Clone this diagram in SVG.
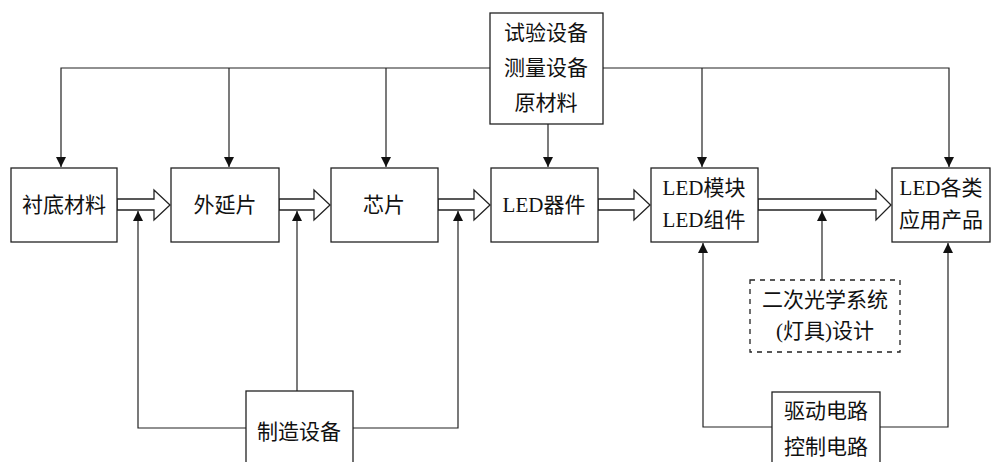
<svg xmlns="http://www.w3.org/2000/svg" width="992" height="462" viewBox="0 0 992 462">
<defs>
<style>
.box{fill:#fff;stroke:#222;stroke-width:1.3}
.dbox{fill:#fff;stroke:#222;stroke-width:1.3;stroke-dasharray:5 5}
.ln{fill:none;stroke:#222;stroke-width:1.2}
.ha{fill:#fff;stroke:#222;stroke-width:1.3;stroke-linejoin:miter}
text{font-family:"Liberation Serif","Noto Sans CJK SC",serif;font-size:21px;fill:#111;text-anchor:middle;dominant-baseline:central}
</style>
<marker id="ah" viewBox="0 0 10 10" refX="10" refY="5" markerWidth="10" markerHeight="10" markerUnits="userSpaceOnUse" orient="auto">
<path d="M0,0 L10,5 L0,10 Z" fill="#111"/>
</marker>
</defs>
<g id="connectors">
<!-- top distribution -->
<path class="ln" d="M490,68 H61 V167" marker-end="url(#ah)"/>
<path class="ln" d="M229,68 V167" marker-end="url(#ah)"/>
<path class="ln" d="M386,68 V167" marker-end="url(#ah)"/>
<path class="ln" d="M603,68 H949 V167" marker-end="url(#ah)"/>
<path class="ln" d="M702,68 V167" marker-end="url(#ah)"/>
<path class="ln" d="M548,124 V167" marker-end="url(#ah)"/>
<!-- hollow arrows -->
<path class="ha" d="M117,199 H154 V190 L170,205 L154,220 V210 H117 Z"/>
<path class="ha" d="M279,199 H314 V190 L330,205 L314,220 V210 H279 Z"/>
<path class="ha" d="M438,199 H474 V190 L490,205 L474,220 V210 H438 Z"/>
<path class="ha" d="M598,199 H634 V190 L650,205 L634,220 V210 H598 Z"/>
<path class="ha" d="M758,199 H876 V190 L891,205 L876,220 V210 H758 Z"/>
<!-- bottom manufacturing -->
<path class="ln" d="M246,428 H138 V211" marker-end="url(#ah)"/>
<path class="ln" d="M353,428 H458 V211" marker-end="url(#ah)"/>
<path class="ln" d="M297,391 V211" marker-end="url(#ah)"/>
<!-- optics -->
<path class="ln" d="M822,280 V211" marker-end="url(#ah)"/>
<!-- drive -->
<path class="ln" d="M772,427 H703 V243" marker-end="url(#ah)"/>
<path class="ln" d="M880,427 H948 V243" marker-end="url(#ah)"/>
</g>
<g id="n-test">
<rect class="box" x="490" y="13" width="113" height="111"/>
<text x="546" y="33">试验设备</text>
<text x="546" y="68">测量设备</text>
<text x="546" y="103">原材料</text>
</g>
<g id="n-substrate">
<rect class="box" x="11" y="168" width="106" height="74"/>
<text x="64" y="205">衬底材料</text>
</g>
<g id="n-epi">
<rect class="box" x="171" y="168" width="108" height="74"/>
<text x="225" y="205">外延片</text>
</g>
<g id="n-chip">
<rect class="box" x="331" y="168" width="107" height="74"/>
<text x="384" y="205">芯片</text>
</g>
<g id="n-device">
<rect class="box" x="491" y="168" width="107" height="74"/>
<text x="544" y="205">LED器件</text>
</g>
<g id="n-module">
<rect class="box" x="651" y="168" width="107" height="74"/>
<text x="704" y="188">LED模块</text>
<text x="704" y="220">LED组件</text>
</g>
<g id="n-apps">
<rect class="box" x="892" y="168" width="98" height="74"/>
<text x="941" y="188">LED各类</text>
<text x="941" y="220">应用产品</text>
</g>
<g id="n-optics">
<rect class="dbox" x="750" y="280" width="150" height="72"/>
<text x="825" y="300">二次光学系统</text>
<text x="825" y="331">(灯具)设计</text>
</g>
<g id="n-mfg">
<rect class="box" x="246" y="391" width="107" height="80"/>
<text x="299" y="432">制造设备</text>
</g>
<g id="n-drive">
<rect class="box" x="772" y="392" width="108" height="80"/>
<text x="826" y="411">驱动电路</text>
<text x="826" y="447">控制电路</text>
</g>
</svg>
